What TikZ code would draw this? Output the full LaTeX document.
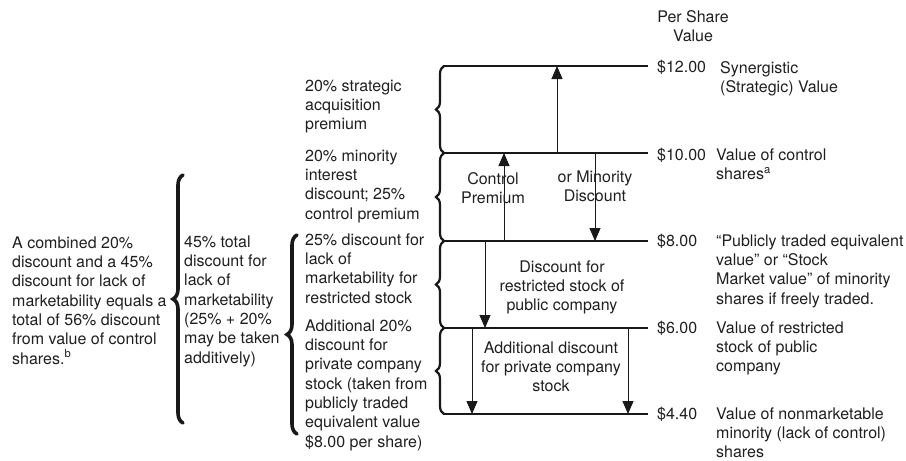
\documentclass[tikz,border=0pt]{standalone}
\usepackage{fontspec}
\setmainfont{TeX Gyre Heros}
\usetikzlibrary{arrows.meta,decorations.pathreplacing}
\tikzset{
  txt/.style={anchor=north west, yshift=8.5pt, inner sep=0pt, align=left,
              font=\fontsize{16}{19.3}\selectfont, text=black!88},
  ctxt/.style={txt, anchor=north, align=center},
  hline/.style={line width=1.1pt, black!90},
  arr/.style={-{Triangle[length=13pt,width=11pt]}, line width=0.9pt, black!90},
  sbrace/.style={decorate, decoration={brace, amplitude=8pt}, line width=2.2pt, line cap=round, black!90},
  bbrace/.style={decorate, decoration={brace, amplitude=10pt}, line width=3.6pt, line cap=round, black!90}
}
\begin{document}
\begin{tikzpicture}[x=1pt,y=-1pt]
\useasboundingbox (0,0) rectangle (906,461);

% value line ends
\coordinate (l12w) at (445,66);  \coordinate (l12e) at (648,66);
\coordinate (l10w) at (445,153); \coordinate (l10e) at (648,153);
\coordinate (l8w)  at (445,241); \coordinate (l8e)  at (648,241);
\coordinate (l6w)  at (445,328); \coordinate (l6e)  at (648,328);
\coordinate (l4w)  at (445,414); \coordinate (l4e)  at (648,414);

\draw[hline] (l12w) -- (l12e);
\draw[hline] (l10w) -- (l10e);
\draw[hline] (l8w) -- (l8e);
\draw[hline] (l6w) -- (l6e);
\draw[hline] (l4w) -- (l4e);

% small braces
\coordinate (b12) at (444,66);
\coordinate (b10) at (444,153);
\coordinate (b8)  at (444,241);
\coordinate (b6)  at (444,328);
\coordinate (b4)  at (444,414);
\draw[sbrace] (b10) -- (b12);
\draw[sbrace] (b8) -- (b10);
\draw[sbrace] (b6) -- (b8);
\draw[sbrace] (b4) -- (b6);

% big braces
\coordinate (B1t) at (183,175); \coordinate (B1b) at (183,423);
\coordinate (B2t) at (297,235); \coordinate (B2b) at (297,434);
\draw[bbrace] (B1b) -- (B1t);
\draw[bbrace] (B2b) -- (B2t);

% arrows
\coordinate (a1s) at (557,153); \coordinate (a1e) at (557,66);
\coordinate (a2s) at (504,241); \coordinate (a2e) at (504,153);
\coordinate (a3s) at (595,153); \coordinate (a3e) at (595,241);
\coordinate (a4s) at (485,241); \coordinate (a4e) at (485,328);
\coordinate (a5s) at (472,328); \coordinate (a5e) at (472,414);
\coordinate (a6s) at (628,328); \coordinate (a6e) at (628,414);
\draw[arr] (a1s) -- (a1e);
\draw[arr] (a2s) -- (a2e);
\draw[arr] (a3s) -- (a3e);
\draw[arr] (a4s) -- (a4e);
\draw[arr] (a5s) -- (a5e);
\draw[arr] (a6s) -- (a6e);

% header
\node[ctxt] (hdr) at (693,17) {\strut Per Share\\Value};

% values
\node[txt] (v12) at (657,67)  {\strut\$12.00};
\node[txt] (v10) at (657,155) {\strut\$10.00};
\node[txt] (v8)  at (657,241) {\strut\$8.00};
\node[txt] (v6)  at (657,328) {\strut\$6.00};
\node[txt] (v4)  at (657,414) {\strut\$4.40};

% descriptions
\node[txt] (d12) at (720,68)  {\strut Synergistic\\(Strategic) Value};
\node[txt] (d10) at (716,155) {\strut Value of control\\shares\textsuperscript{a}};
\node[txt] (d8)  at (716,241) {\strut “Publicly traded equivalent\\value” or “Stock\\Market value” of minority\\shares if freely traded.};
\node[txt] (d6)  at (716,328) {\strut Value of restricted\\stock of public\\company};
\node[txt] (d4)  at (716,414) {\strut Value of nonmarketable\\minority (lack of control)\\shares};

% inner labels
\node[ctxt] (cp) at (493,179) {\strut Control\\Premium};
\node[ctxt] (md) at (595,177) {\strut or Minority\\Discount};
\node[ctxt] (dr) at (562,267) {\strut Discount for\\restricted stock of\\public company};
\node[ctxt] (ad) at (551,348) {\strut Additional discount\\for private company\\stock};

% left column
\node[txt] (t1) at (305,86)  {\strut 20\% strategic\\acquisition\\premium};
\node[txt] (t2) at (305,156) {\strut 20\% minority\\interest\\discount; 25\%\\control premium};
\node[txt] (t3) at (305,240) {\strut 25\% discount for\\lack of\\marketability for\\restricted stock};
\node[txt] (t4) at (305,326) {\strut Additional 20\%\\discount for\\private company\\stock (taken from\\publicly traded\\equivalent value\\\$8.00 per share)};

\node[txt] (m1) at (184,242) {\strut 45\% total\\discount for\\lack of\\marketability\\(25\% + 20\%\\may be taken\\additively)};

\node[txt] (l1) at (12,243) {\strut A combined 20\%\\discount and a 45\%\\discount for lack of\\marketability equals a\\total of 56\% discount\\from value of control\\shares.\textsuperscript{b}};
\end{tikzpicture}
\end{document}
